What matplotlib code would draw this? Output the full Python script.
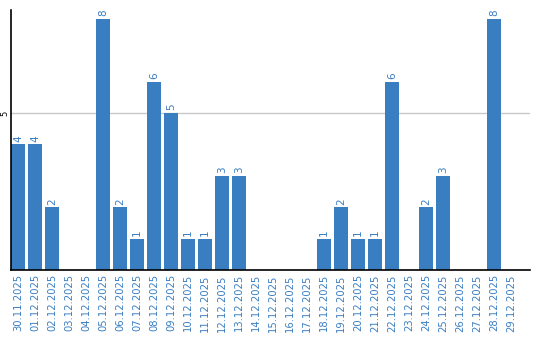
import matplotlib
matplotlib.use("Agg")
import matplotlib.pyplot as plt

dates = ["30.11.2025", "01.12.2025", "02.12.2025", "03.12.2025", "04.12.2025",
         "05.12.2025", "06.12.2025", "07.12.2025", "08.12.2025", "09.12.2025",
         "10.12.2025", "11.12.2025", "12.12.2025", "13.12.2025", "14.12.2025",
         "15.12.2025", "16.12.2025", "17.12.2025", "18.12.2025", "19.12.2025",
         "20.12.2025", "21.12.2025", "22.12.2025", "23.12.2025", "24.12.2025",
         "25.12.2025", "26.12.2025", "27.12.2025", "28.12.2025", "29.12.2025"]
counts = [4, 4, 2, 0, 0, 8, 2, 1, 6, 5, 1, 1, 3, 3, 0,
          0, 0, 0, 1, 2, 1, 1, 6, 0, 2, 3, 0, 0, 8, 0]

blue = "#3a7ec2"

fig = plt.figure(figsize=(5.4, 3.4), dpi=100)
ax = fig.add_axes([10.5 / 540, 70 / 340, 519.5 / 540, 260 / 340])

x = range(len(dates))
ax.bar(x, counts, width=0.82, color=blue, zorder=2)
for i, v in zip(x, counts):
    if v > 0:
        ax.text(i, v + 0.08, str(v), rotation=90, ha="center", va="bottom",
                color=blue, fontsize=7.5)

ax.set_xlim(-0.44, 30.12)
ax.set_ylim(0, 8.28)
ax.set_yticks([5])
ax.set_yticklabels(["5"], rotation=90, va="center", fontsize=6)
ax.yaxis.grid(True, color="#c8c8c8", linewidth=1, zorder=0)
ax.set_xticks(list(x))
ax.set_xticklabels(dates, rotation=90, color=blue, fontsize=7.2)
ax.tick_params(length=0, pad=3)
ax.tick_params(axis="y", pad=1)
for s in ["top", "right"]:
    ax.spines[s].set_visible(False)
for s in ["left", "bottom"]:
    ax.spines[s].set_color("black")
    ax.spines[s].set_linewidth(1.2)

fig.savefig("out.png", dpi=100)
